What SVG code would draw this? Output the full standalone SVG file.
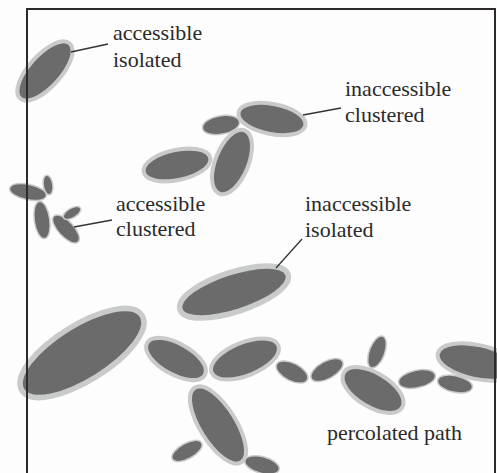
<svg xmlns="http://www.w3.org/2000/svg" width="497" height="473" viewBox="0 0 497 473">
<style>
.p{fill:#6b6b6b;stroke:#c9cbcb;paint-order:stroke;}
.s{stroke-width:3}
.m{stroke-width:8}
.l{stroke-width:11}
.t{font-family:"Liberation Serif","Times New Roman",serif;font-size:22px;fill:#2a2a2a;}
.ld{stroke:#333;stroke-width:1.3;fill:none}
</style>
<rect width="497" height="473" fill="#fdfdfd"/>
<g id="accessible-isolated">
<ellipse class="p m" transform="translate(45 71) rotate(-48)" rx="35" ry="14"/>
<text class="t" x="113" y="40">accessible</text>
<text class="t" x="113" y="67">isolated</text>
</g>
<g id="inaccessible-clustered">
<ellipse class="p m" transform="translate(177 165) rotate(-12)" rx="32" ry="13"/>
<ellipse class="p s" transform="translate(221 125) rotate(-10)" rx="18" ry="8.5"/>
<ellipse class="p m" transform="translate(232 162) rotate(-68)" rx="32" ry="14.5"/>
<ellipse class="p m" transform="translate(272 119) rotate(11)" rx="32" ry="13"/>
<text class="t" x="345" y="96">inaccessible</text>
<text class="t" x="345" y="122">clustered</text>
</g>
<g id="accessible-clustered">
<ellipse class="p s" transform="translate(28 192) rotate(12)" rx="18" ry="7"/>
<ellipse class="p s" transform="translate(48 185) rotate(81)" rx="9" ry="4"/>
<ellipse class="p s" transform="translate(42 220) rotate(82)" rx="18" ry="7"/>
<ellipse class="p s" transform="translate(66 229) rotate(47)" rx="17" ry="7"/>
<ellipse class="p s" transform="translate(72 213) rotate(-30)" rx="9" ry="4"/>
<text class="t" x="116" y="211">accessible</text>
<text class="t" x="116" y="236">clustered</text>
</g>
<g id="inaccessible-isolated">
<ellipse class="p l" transform="translate(234 292) rotate(-18)" rx="54" ry="17"/>
<text class="t" x="305" y="211">inaccessible</text>
<text class="t" x="305" y="237">isolated</text>
</g>
<g id="percolated-path">
<ellipse class="p l" transform="translate(82 353) rotate(-32)" rx="68" ry="25"/>
<ellipse class="p m" transform="translate(176 359) rotate(29)" rx="31" ry="13.5"/>
<ellipse class="p m" transform="translate(245 359) rotate(-22)" rx="34" ry="14.5"/>
<ellipse class="p m" transform="translate(218 425) rotate(58)" rx="42" ry="16"/>
<ellipse class="p s" transform="translate(187 451) rotate(-29)" rx="16" ry="7"/>
<ellipse class="p s" transform="translate(262 465) rotate(15)" rx="17" ry="7.5"/>
<ellipse class="p s" transform="translate(292 372) rotate(27)" rx="16.5" ry="8"/>
<ellipse class="p s" transform="translate(327 370) rotate(-29)" rx="17" ry="8"/>
<ellipse class="p s" transform="translate(377 352) rotate(110)" rx="16" ry="7"/>
<ellipse class="p m" transform="translate(373 390) rotate(31)" rx="32" ry="15"/>
<ellipse class="p s" transform="translate(417 379) rotate(-12)" rx="18" ry="8"/>
<ellipse class="p s" transform="translate(455 384) rotate(12)" rx="17" ry="7.5"/>
<ellipse class="p m" transform="translate(477 362) rotate(12)" rx="38" ry="15"/>
<text class="t" x="327" y="440">percolated path</text>
</g>
<g id="connectors">
<line class="ld" x1="71" y1="52" x2="108" y2="44"/>
<line class="ld" x1="303" y1="115" x2="341" y2="108"/>
<line class="ld" x1="74" y1="227" x2="112" y2="220"/>
<line class="ld" x1="276" y1="268" x2="302" y2="239"/>
</g>
<path id="frame" d="M27 473V9H495V473" fill="none" stroke="#2e2a2a" stroke-width="2"/>
</svg>
